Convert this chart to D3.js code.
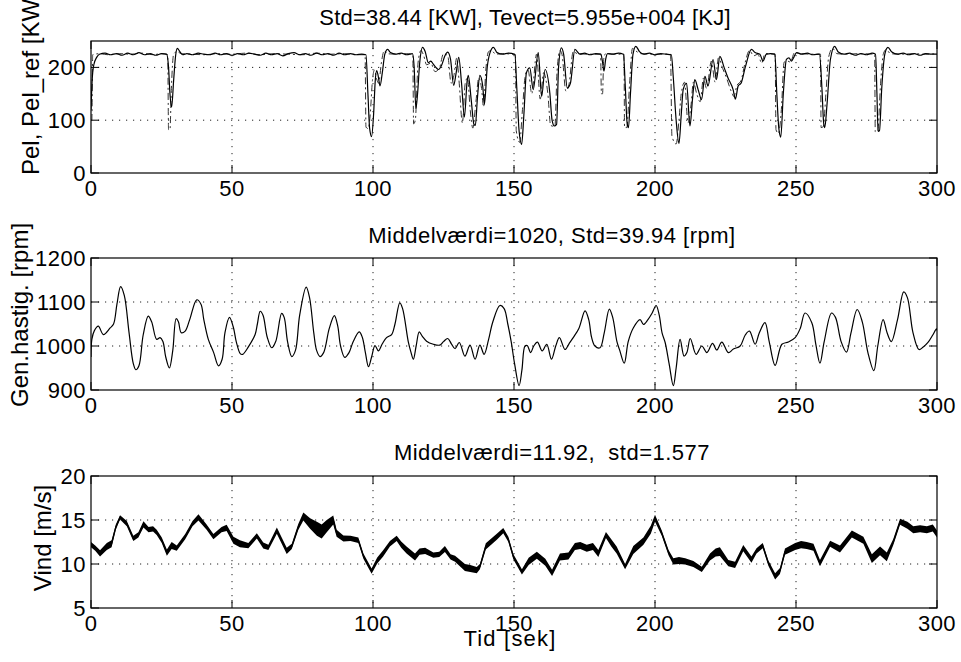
<!DOCTYPE html>
<html>
<head>
<meta charset="utf-8">
<script src="https://cdn.jsdelivr.net/npm/d3@7"></script>
<style>
  body { margin: 0; background: #fff; }
  svg { display: block; font-family: "Liberation Sans", Arial, Helvetica, sans-serif; }
</style>
</head>
<body>
<div id="chart"></div>
<script>
// ---- data ----
const xTicks = [0, 50, 100, 150, 200, 250, 300];

// Pel (solid) [KW]
const pelT = [0,0.4,1,2,3,5,7,9,11,13,15,17,19,21,23,25,26.8,27.5,28,28.6,29.3,30,30.6,31.5,32.5,34,36,38,40,42,44,46,48,50,52,54,56,58,60,62,64,66,68,70,72,74,76,78,80,82,84,86,88,90,92,94,96,97.5,98.2,98.8,99.5,100.2,100.8,101.3,101.8,102.5,103.3,104.2,105.2,106.2,108,110,112,114,114.6,115.2,115.8,116.5,117.6,118.5,119.6,120.5,121.4,122.3,123.2,124.4,125.5,126.5,127.5,128.6,129.5,130.4,131.4,132.4,133.4,133.8,134.8,135.8,136.3,137,137.9,138.9,139.5,140.5,141.5,142.7,144,146,148,150.3,151,151.8,152.7,153.5,154.4,155.6,156.8,158.6,159.8,161,162.7,163.5,164.3,165.1,165.8,166.8,167.6,168.9,170,171.6,173.4,175,177,179,180.8,181.4,181.9,182.5,183.2,185,187,188.8,189.5,190.1,190.6,191.3,192.2,193.2,194.5,196,198,200,202,204,205.8,206.5,207.5,208.5,209.3,210,211.2,212.4,213.3,214.1,215.3,216.5,217.7,218.8,220.6,221.8,223,224.5,225.9,227.7,228.5,229.5,230.5,232,234.2,235.5,237.2,238.3,239.5,241,242.5,243.2,243.9,244.6,245.5,246.6,247.5,248.4,249.3,250.2,252,254,256,258.3,259.2,259.8,260.2,261,262.2,263.7,265,267,269,271,273,275,277,278.2,278.7,279.1,279.6,280.4,281.5,282.6,284,286,288,290,292,294,296,298,300];
const pelV = [120,175,205,219,225,227,224,226,223,227,224,228,224,226,223,226,225,200,150,125,175,222,236,230,224,226,224,227,225,224,227,224,226,223,226,224,227,225,223,227,224,226,222,226,228,224,226,223,227,224,226,223,227,224,226,224,225,224,150,85,69,110,175,194,185,165,190,225,234,228,225,227,224,226,200,122,150,205,238,230,209,212,206,200,196,205,222,229,215,166,190,219,170,106,175,185,140,92,90,140,185,165,130,200,228,238,228,225,227,225,160,80,54,110,190,199,158,228,145,196,152,100,89,92,200,237,225,161,170,234,225,227,224,226,225,210,193,215,226,225,227,225,160,95,86,150,225,240,230,225,227,224,226,225,224,180,100,56,110,158,170,89,140,177,158,139,183,165,215,177,221,200,180,158,140,165,170,200,234,228,225,212,225,226,225,150,85,68,150,215,218,212,220,228,225,227,224,225,160,95,86,130,215,240,229,225,227,223,226,224,227,225,150,79,80,160,225,238,229,225,227,224,226,223,226,225,225];

// Pel_ref (dash-dot) [KW]
const refT = [0,0.3,0.6,3,6,10,14,18,22,25,27.2,27.5,28,28.5,29.3,30.5,32,36,40,45,50,55,60,65,70,75,80,85,90,94,97.2,97.5,98.3,99,99.8,100.5,101.3,102,103,104,105,108,112,114.1,114.4,115,116,117,118,119,120.5,122,123.5,125,126.5,127.7,128.7,129.7,130.5,131.7,132.7,133.5,134.5,135.4,136.5,137.5,138.5,139.2,140,141,142,143.5,146,150.5,150.8,152,153,154,155,156.3,158,159.3,160.5,162,163,164.5,165.3,166.3,167,168.4,169.5,171,172.5,176,180.7,181,181.4,181.8,182.5,186,189,189.2,190,191,192,193,195,200,205.5,206,207.5,208.5,209.3,210.5,211.7,212.8,213.6,214.8,216,217.2,218.3,220,221.3,222.5,224,225.5,227,228,229,230.5,232,233.5,235,236.5,237.8,239,242.6,242.9,243.8,244.8,245.8,247,248,249.5,252,256,258.7,258.9,259.7,260.6,261.6,263,264.5,268,272,277.9,278.1,279,280,281,282,283.5,287,292,296,300];
const refV = [100,100,224,226,224,226,225,227,224,226,224,82,82,160,225,230,226,225,224,226,225,227,224,226,225,224,227,225,226,224,224,87,84,110,175,195,178,170,210,232,226,225,226,224,93,100,210,232,222,205,208,192,198,226,222,170,185,218,175,95,170,180,118,85,135,180,160,125,195,230,232,225,226,224,80,58,120,185,195,150,225,140,190,150,90,88,195,232,225,155,168,230,226,225,225,150,150,215,226,225,225,86,86,170,236,232,226,225,225,70,55,100,150,172,95,130,172,150,135,180,160,212,172,218,198,178,155,145,165,175,210,232,222,225,208,226,225,82,75,120,210,212,210,228,226,225,225,86,88,150,220,236,226,225,226,225,78,80,170,226,234,226,225,226,225,226];

// Generator speed [rpm]
const genT = [0,0.3,1.2,2.6,4.4,6.8,8,9.2,10.5,11.8,13.5,15,15.9,17,18.5,20.3,21.5,23.3,24.5,25.5,26.5,27.8,29,30.2,31,32,33.4,35,37.5,39,40,41.6,43.5,45.2,46.5,47.5,49.1,50.5,51.5,53,53.8,55.8,58.2,59,60,61,62.5,64.1,65.5,67.6,68.5,69.7,71.2,72.5,74,76.3,77.5,79,80,81.2,82.5,84.5,86.3,87.5,88.5,90,91.5,93,95.1,96.2,97.3,98.4,99.5,100.7,101.9,103.3,104.8,106.6,107.8,109.5,110.5,112.5,113.5,114.3,115.3,116.4,117.5,119,121.4,123.7,125,126.5,127.8,129.1,130.6,132.6,134.4,136.2,137.9,139.4,141,142.5,145,146.5,147.8,149,150.2,151.8,152.8,153.9,154.7,155.9,157,158.3,160,161.6,163.3,164.8,166.1,168.1,169.5,171,173,175.2,176.5,177.5,178.7,180.5,182,183.8,185,186.5,187.5,189.1,190.5,192.3,194.7,195.9,197.5,199,200.4,201.5,202.5,203.6,205,206.5,207.5,208.9,210.3,211.3,212.5,214.6,216.6,218.4,220.4,221.9,223.7,226,227.8,230.2,232,233.5,235.5,237,239,240.5,242.6,245,247.3,249.7,251.5,253.2,255.6,257,258.5,260,262.6,264,266,267.9,269.5,271.7,273.5,275.5,277.6,279,280.9,282.3,283.8,286,288.2,289.5,291.5,293.6,295,296.8,298.5,299.8,300];
const genV = [975,1015,1035,1045,1026,1041,1050,1095,1135,1115,1030,960,946,955,1025,1068,1055,1015,1019,1010,975,950,990,1062,1055,1030,1034,1060,1105,1095,1060,1015,985,955,970,1030,1065,1042,1010,982,981,998,1026,1050,1079,1070,1020,996,1010,1074,1065,1010,976,990,1070,1134,1110,1030,990,976,985,1040,1069,1045,1000,974,985,1010,1032,1020,985,953,975,1001,989,1005,1019,1026,1050,1098,1085,1010,985,970,1000,1032,1022,1011,1004,1002,1010,1017,1005,994,1008,977,1002,970,1002,981,1015,1055,1092,1085,1050,1010,960,910,945,1000,1001,985,1000,1009,989,1004,970,1000,1019,992,1005,1019,1040,1080,1060,1020,1000,996,1030,1084,1065,1010,990,961,1010,1041,1060,1049,1060,1075,1092,1070,1030,1008,960,910,950,1015,977,985,1017,981,1000,985,1006,991,1009,985,993,1000,1025,1034,1004,1030,1053,1010,956,1004,1009,1019,1040,1075,1053,1005,961,1010,1075,1065,1010,986,1030,1083,1055,985,944,1000,1060,1030,1010,1060,1123,1110,1030,992,997,1008,1025,1039,1035];

// Wind [m/s]: centre of the noisy trace and half width of its band
const windT = [0,1.5,3.2,5.6,7.3,8.8,10.3,12.7,15,16.8,18.6,20.4,22,23.3,25.1,26.9,28.6,30.4,33.4,36,38.1,41,43.4,46.3,48.1,50.5,52.8,55.8,58.8,61.1,62.9,65.9,69.4,71.2,73.5,75.3,77.7,80.1,81.8,83.6,85.9,87.1,89.5,92,94.8,96.6,99.5,101.5,103.6,106,108.4,110,111.9,114.9,116.5,118.5,121.4,123.5,125.5,127.5,129.1,132.6,134.5,136.8,137.9,140,143.9,146.2,148,149.8,152.8,155.2,158.1,161.1,163.5,166.3,169.3,171.6,173.5,175.8,178,179.9,182.6,184.5,186.4,189.4,192.3,195.9,198.5,200,202.4,204.8,206.5,208.5,210.7,213.6,216.6,219.5,221.5,223,226,228.4,231.3,234.2,236,238.2,240.2,242.6,244.3,246.1,249.7,251.8,253.8,256.2,258.5,262.1,265.6,269.8,273.9,276.9,279.8,282.2,284.5,286.9,289.5,291.6,294,296.4,298.5,300];
const windV = [12.2,11.8,11.2,12,12.3,14.2,15.3,14.6,12.9,13.3,14.5,13.9,14,13.6,12.7,11.3,12.1,11.8,13.1,14.6,15.3,14.2,13.1,13.9,14.1,12.7,12.3,12.1,13.2,12.1,11.9,13.8,11.5,12,14.2,15.4,14.6,14,13.7,14.3,15,13.5,12.9,12.9,12.7,10.9,9.2,10.4,11.2,12.3,12.9,12.2,11.6,10.8,11.4,11.5,11,11.1,11.7,10.8,10.6,9.6,9.5,9.3,9.7,12,13.1,13.8,12.8,10.8,9.1,10.3,11,10.2,9,10.8,10.9,12,12.1,11.8,12,11.2,13.3,12.4,11.6,9.7,11.6,12.6,13.9,15.2,13.5,11.3,10.3,10.4,10.3,10,9.4,10.8,11.3,11.4,10.1,9.9,11.8,10.5,11.5,12.1,10.1,8.6,9.2,11.4,12,12.2,12.1,11.9,10.1,12.3,11.7,13.4,12.7,10.6,11.5,10.8,12.5,14.8,14.4,13.9,14,13.9,14.1,13.4];
const windW = [.3,.3,.35,.4,.4,.3,.25,.3,.3,.3,.35,.3,.3,.3,.3,.35,.4,.3,.3,.3,.35,.3,.3,.3,.35,.4,.4,.3,.3,.35,.3,.35,.35,.3,.35,.45,.6,.8,.8,.7,.5,.4,.35,.3,.3,.3,.3,.35,.35,.3,.3,.35,.4,.4,.35,.35,.3,.3,.35,.3,.35,.4,.4,.35,.3,.35,.35,.3,.3,.3,.3,.4,.4,.4,.35,.4,.4,.4,.4,.4,.4,.4,.35,.4,.4,.3,.45,.4,.45,.4,.3,.3,.35,.4,.35,.35,.3,.4,.45,.5,.35,.35,.35,.35,.3,.3,.3,.35,.35,.35,.4,.4,.4,.4,.35,.35,.4,.4,.4,.5,.5,.5,.35,.35,.4,.4,.4,.4,.4,.4];

const pelTitle = "Std=38.44 [KW], Tevect=5.955e+004 [KJ]";
const genTitle = "Middelværdi=1020, Std=39.94 [rpm]";
const windTitle = "Middelværdi=11.92,  std=1.577";

// ---- layout ----
const W = 961, H = 662;
const left = 91, right = 937;
const fontSize = 22;

const svg = d3.select('#chart').append('svg')
  .attr('width', W)
  .attr('height', H)
  .style('background', '#fff');

const x = d3.scaleLinear().domain([0, 300]).range([left, right]);

function panel(opt) {
  const y = d3.scaleLinear().domain(opt.domain).range([opt.bottom, opt.top]);
  const g = svg.append('g');

  // grid
  g.append('g')
    .selectAll('line')
    .data(xTicks.slice(1, -1))
    .join('line')
    .attr('x1', d => x(d)).attr('x2', d => x(d))
    .attr('y1', opt.top).attr('y2', opt.bottom)
    .attr('stroke', '#222').attr('stroke-width', 1)
    .attr('stroke-dasharray', '1.2,5.8');
  g.append('g')
    .selectAll('line')
    .data(opt.grid)
    .join('line')
    .attr('x1', left).attr('x2', right)
    .attr('y1', d => y(d)).attr('y2', d => y(d))
    .attr('stroke', '#222').attr('stroke-width', 1)
    .attr('stroke-dasharray', '1.2,5.8');

  // inner ticks (matlab style) on all four sides
  const tk = 8;
  g.append('g')
    .selectAll('path')
    .data(xTicks)
    .join('path')
    .attr('d', d => `M${x(d)},${opt.bottom}v${-tk}M${x(d)},${opt.top}v${tk}`)
    .attr('stroke', '#000');
  g.append('g')
    .selectAll('path')
    .data(opt.yTicks)
    .join('path')
    .attr('d', d => `M${left},${y(d)}h${tk}M${right},${y(d)}h${-tk}`)
    .attr('stroke', '#000');

  // series
  const clipId = 'clip' + opt.top;
  g.append('clipPath').attr('id', clipId)
    .append('rect')
    .attr('x', left).attr('y', opt.top)
    .attr('width', right - left).attr('height', opt.bottom - opt.top);
  const plot = g.append('g').attr('clip-path', `url(#${clipId})`);
  opt.draw(plot, y);

  // box
  g.append('rect')
    .attr('x', left).attr('y', opt.top)
    .attr('width', right - left).attr('height', opt.bottom - opt.top)
    .attr('fill', 'none').attr('stroke', '#000').attr('stroke-width', 1.2);

  // tick labels
  g.append('g')
    .selectAll('text')
    .data(xTicks)
    .join('text')
    .attr('x', d => x(d))
    .attr('y', opt.bottom + 23)
    .attr('text-anchor', 'middle')
    .style('font-size', fontSize + 'px')
    .style('letter-spacing', '0.5px')
    .text(d => d);
  g.append('g')
    .selectAll('text')
    .data(opt.yTicks)
    .join('text')
    .attr('x', left - 5)
    .attr('y', d => y(d))
    .attr('dy', '0.36em')
    .attr('text-anchor', 'end')
    .style('font-size', fontSize + 'px')
    .style('letter-spacing', '0.5px')
    .text(d => d);

  // title
  g.append('text')
    .attr('x', opt.titleX)
    .attr('y', opt.titleY)
    .attr('text-anchor', 'middle')
    .style('font-size', fontSize + 'px')
    .style('letter-spacing', opt.titleSpacing)
    .style('white-space', 'pre')
    .text(opt.title);

  // y label
  g.append('text')
    .attr('transform', `translate(${opt.labelX},${opt.labelY}) rotate(-90)`)
    .attr('text-anchor', opt.labelAnchor)
    .style('font-size', '24px')
    .text(opt.label);

  return y;
}

const smooth = d3.curveMonotoneX;

panel({
  top: 41, bottom: 173, domain: [0, 250],
  yTicks: [0, 100, 200], grid: [100, 200],
  title: pelTitle, titleX: 525, titleY: 25, titleSpacing: '0.2px',
  label: 'Pel, Pel_ref [KW]', labelX: 39, labelY: 175, labelAnchor: 'start',
  draw: (p, y) => {
    const ref = d3.line().x(d => x(d[0])).y(d => y(d[1])).curve(smooth);
    p.append('path')
      .attr('d', ref(refT.map((t, i) => [t, refV[i]])))
      .attr('fill', 'none').attr('stroke', '#333').attr('stroke-width', 1)
      .attr('stroke-dasharray', '7,3,2,3');
    p.append('path')
      .attr('d', ref(pelT.map((t, i) => [t, pelV[i]])))
      .attr('fill', 'none').attr('stroke', '#000').attr('stroke-width', 1.2);
  }
});

panel({
  top: 258, bottom: 390, domain: [900, 1200],
  yTicks: [900, 1000, 1100, 1200], grid: [1000, 1100],
  title: genTitle, titleX: 552, titleY: 243, titleSpacing: '0.5px',
  label: 'Gen.hastig. [rpm]', labelX: 28, labelY: 315, labelAnchor: 'middle',
  draw: (p, y) => {
    const line = d3.line().x(d => x(d[0])).y(d => y(d[1])).curve(d3.curveCatmullRom.alpha(0.5));
    p.append('path')
      .attr('d', line(genT.map((t, i) => [t, genV[i]])))
      .attr('fill', 'none').attr('stroke', '#000').attr('stroke-width', 1.2);
  }
});

panel({
  top: 476, bottom: 608, domain: [5, 20],
  yTicks: [5, 10, 15, 20], grid: [10, 15],
  title: windTitle, titleX: 552, titleY: 460, titleSpacing: '0.5px',
  label: 'Vind [m/s]', labelX: 51, labelY: 538, labelAnchor: 'middle',
  draw: (p, y) => {
    const band = d3.area()
      .x(d => x(d[0]))
      .y0(d => y(d[1] - d[2]))
      .y1(d => y(d[1] + d[2]));
    const rows = windT.map((t, i) => [t, windV[i], windW[i]]);
    p.append('path')
      .attr('d', band(rows))
      .attr('fill', '#000');
    p.append('path')
      .attr('d', d3.line().x(d => x(d[0])).y(d => y(d[1]))(rows))
      .attr('fill', 'none').attr('stroke', '#000').attr('stroke-width', 1.2);
  }
});

// x label
svg.append('text')
  .attr('x', 510)
  .attr('y', 646)
  .attr('text-anchor', 'middle')
  .style('font-size', '22px')
  .style('letter-spacing', '1.2px')
  .text('Tid [sek]');
</script>
</body>
</html>
